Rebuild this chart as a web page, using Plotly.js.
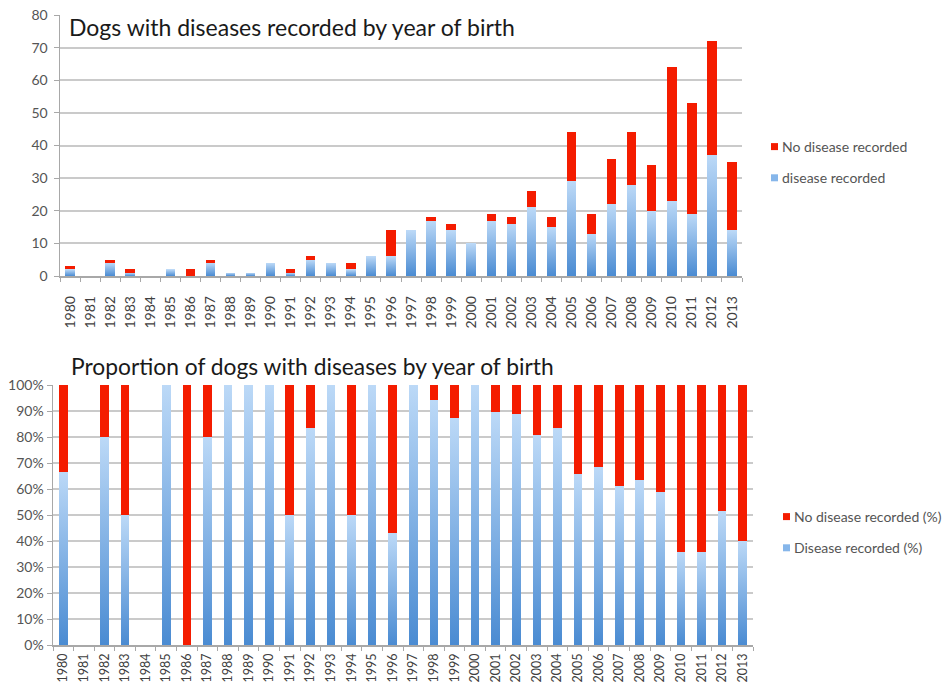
<!DOCTYPE html>
<html>
<head>
<meta charset="utf-8">
<script src="https://cdn.plot.ly/plotly-3.0.1.min.js"></script>
<style>
html,body{margin:0;padding:0;background:#fff;}
#chart{width:947px;height:685px;}
</style>
</head>
<body>
<div id="chart"></div>
<script>
const years = ['1980','1981','1982','1983','1984','1985','1986','1987','1988','1989',
  '1990','1991','1992','1993','1994','1995','1996','1997','1998','1999',
  '2000','2001','2002','2003','2004','2005','2006','2007','2008','2009',
  '2010','2011','2012','2013'];

const diseaseCount   = [2,0,4,1,0,2,0,4,1,1, 4,1,5,4,2,6,6,14,17,14, 10,17,16,21,15,29,13,22,28,20, 23,19,37,14];
const noDiseaseCount = [1,0,1,1,0,0,2,1,0,0, 0,1,1,0,2,0,8,0,1,2, 0,2,2,5,3,15,6,14,16,14, 41,34,35,21];

const diseasePct   = [66.7,0,80,50,0,100,0,80,100,100, 100,50,83.3,100,50,100,42.9,100,94.4,87.5,
  100,89.5,88.9,80.8,83.3,65.9,68.4,61.1,63.6,58.8, 35.9,35.8,51.4,40];
const noDiseasePct = [33.3,0,20,50,0,0,100,20,0,0, 0,50,16.7,0,50,0,57.1,0,5.6,12.5,
  0,10.5,11.1,19.2,16.7,34.1,31.6,38.9,36.4,41.2, 64.1,64.2,48.6,60];

const topTitle = 'Dogs with diseases recorded by year of birth';
const bottomTitle = 'Proportion of dogs with diseases by year of birth';

const W = 947, H = 685;
const RED = '#f41c00';
const BLUE = '#86b6ea';
const FONT = 'Lato, "Open Sans", sans-serif';

const traces = [
  {type:'bar', x:years, y:diseaseCount, name:'disease recorded', xaxis:'x', yaxis:'y',
   legend:'legend', legendgroup:'a', legendrank:2, marker:{color:BLUE}, width:0.47, hoverinfo:'skip'},
  {type:'bar', x:years, y:noDiseaseCount, name:'No disease recorded', xaxis:'x', yaxis:'y',
   legend:'legend', legendgroup:'b', legendrank:1, marker:{color:RED}, width:0.47, hoverinfo:'skip'},
  {type:'bar', x:years, y:diseasePct, name:'Disease recorded (%)', xaxis:'x2', yaxis:'y2',
   legend:'legend2', legendgroup:'c', legendrank:2, marker:{color:BLUE}, width:0.42, hoverinfo:'skip'},
  {type:'bar', x:years, y:noDiseasePct, name:'No disease recorded (%)', xaxis:'x2', yaxis:'y2',
   legend:'legend2', legendgroup:'d', legendrank:1, marker:{color:RED}, width:0.42, hoverinfo:'skip'}
];

const xCommon = {
  type:'category', showline:true, linecolor:'#a8a8a8', linewidth:1.5,
  ticks:'outside', ticklen:4, tickcolor:'#a8a8a8', tickson:'boundaries',
  tickangle:-90, tickfont:{size:14, color:'#404040', family:FONT},
  showgrid:false, zeroline:false, fixedrange:true
};
const yCommon = {
  showline:true, linecolor:'#a8a8a8', linewidth:1.5,
  ticks:'outside', ticklen:5, tickcolor:'#a8a8a8',
  showgrid:true, gridcolor:'#cacaca', gridwidth:2, zeroline:false,
  tickfont:{size:14, color:'#555555', family:FONT}, fixedrange:true
};

const legendCommon = {xanchor:'left', yanchor:'top', traceorder:'grouped', tracegroupgap:10,
  font:{size:14, color:'#555555', family:FONT}, bgcolor:'rgba(0,0,0,0)'};

const layout = {
  width:W, height:H,
  margin:{l:0,r:0,t:0,b:0},
  paper_bgcolor:'#ffffff', plot_bgcolor:'#ffffff',
  barmode:'stack',
  showlegend:true,
  font:{family:FONT},
  xaxis: Object.assign({}, xCommon, {domain:[60/W, 742/W], anchor:'y', ticklabelstandoff:13}),
  yaxis: Object.assign({}, yCommon, {domain:[1-276/H, 1-15/H], anchor:'x', range:[0,80], dtick:10, ticklabelstandoff:3}),
  xaxis2: Object.assign({}, xCommon, {domain:[53/W, 753/W], anchor:'y2', ticklabelstandoff:2,
    tickfont:{size:12.5, color:'#404040', family:FONT}}),
  yaxis2: Object.assign({}, yCommon, {domain:[1-645/H, 1-385/H], anchor:'x2', range:[0,100], dtick:10, ticksuffix:'%'}),
  legend: Object.assign({}, legendCommon, {x:742/W, y:1-131/H}),
  legend2: Object.assign({}, legendCommon, {x:754/W, y:1-501/H}),
  annotations:[
    {text:topTitle, xref:'paper', yref:'paper', x:67/W, y:1-27/H, xanchor:'left', yanchor:'middle',
     showarrow:false, font:{size:23, color:'#1a1a1a', family:FONT}},
    {text:bottomTitle, xref:'paper', yref:'paper', x:69/W, y:1-366/H, xanchor:'left', yanchor:'middle',
     showarrow:false, font:{size:22.8, color:'#1a1a1a', family:FONT}}
  ]
};

const gd = document.getElementById('chart');
Plotly.newPlot(gd, traces, layout, {staticPlot:true}).then(function(){
  const NS = 'http://www.w3.org/2000/svg';
  const svg = gd.querySelector('.main-svg');
  let defs = svg.querySelector('defs');
  if(!defs){ defs = document.createElementNS(NS,'defs'); svg.insertBefore(defs, svg.firstChild); }
  const lg = document.createElementNS(NS,'linearGradient');
  lg.setAttribute('id','blueGrad');
  lg.setAttribute('x1','0'); lg.setAttribute('y1','0'); lg.setAttribute('x2','0'); lg.setAttribute('y2','1');
  [['0%','#bcd9f7'],['100%','#4a8bd2']].forEach(function(s){
    const st = document.createElementNS(NS,'stop');
    st.setAttribute('offset', s[0]); st.setAttribute('stop-color', s[1]);
    lg.appendChild(st);
  });
  defs.appendChild(lg);
  gd.querySelectorAll('.barlayer .trace').forEach(function(t){
    const d = t.__data__;
    if(d && d[0] && d[0].trace && d[0].trace.marker.color === BLUE){
      t.querySelectorAll('path').forEach(function(p){ p.style.fill = 'url(#blueGrad)'; });
    }
  });
  gd.querySelectorAll('.legendpoints path').forEach(function(p){
    p.setAttribute('d','M16,3.5H9V-3.5H16Z');
  });
});
</script>
</body>
</html>
